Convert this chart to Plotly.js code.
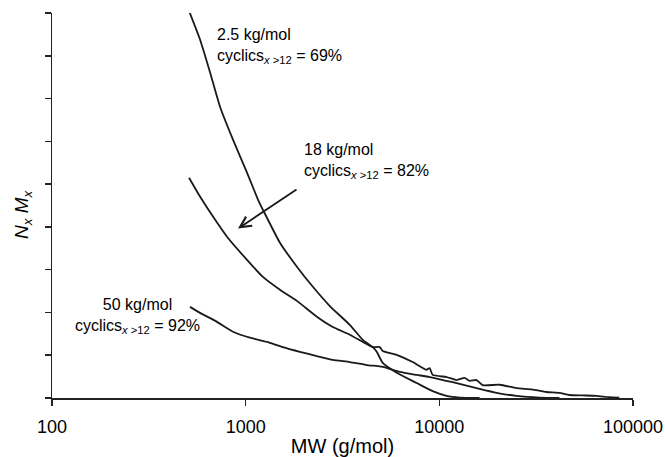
<!DOCTYPE html>
<html>
<head>
<meta charset="utf-8">
<script src="https://cdn.plot.ly/plotly-3.0.1.min.js"></script>
<style>html,body{margin:0;padding:0;background:#fff;}#chart{width:665px;height:457px;}</style>
</head>
<body>
<div id="chart"></div>
<script>
// 2.5 kg/mol (cyclics x>12 = 69%)
const mwA  = [512, 581, 655, 737, 860, 1016, 1157, 1228, 1503, 1839, 2223, 2720, 3448, 4024, 4531, 4751, 5103, 6026, 7638, 9237, 10904, 12725, 16130];
const valA = [9.03, 8.38, 7.61, 6.81, 6.04, 5.27, 4.64, 4.40, 3.63, 3.07, 2.60, 2.15, 1.71, 1.36, 1.19, 1.08, 0.82, 0.59, 0.35, 0.16, 0.05, 0.01, 0.00];
// 18 kg/mol (cyclics x>12 = 82%)
const mwB  = [510, 581, 678, 801, 1016, 1228, 1503, 1839, 2331, 2818, 3448, 4024, 4531, 4923, 5103, 6026, 7286, 8602, 8913, 9237, 10904, 12280, 13500, 14330, 15570, 16720, 20500, 25030, 30000, 35740, 41700, 46950, 55000, 64700, 75000, 85000];
const valB = [5.15, 4.71, 4.24, 3.77, 3.23, 2.83, 2.53, 2.27, 1.90, 1.66, 1.48, 1.31, 1.19, 1.19, 1.10, 1.01, 0.84, 0.66, 0.70, 0.54, 0.49, 0.42, 0.47, 0.40, 0.42, 0.30, 0.31, 0.23, 0.20, 0.14, 0.12, 0.07, 0.06, 0.05, 0.02, 0.01];
// 50 kg/mol (cyclics x>12 = 92%)
const mwC  = [516, 581, 711, 860, 1052, 1288, 1557, 1905, 2331, 2818, 3448, 4220, 5103, 6244, 7638, 8913, 11710, 15570, 19750, 25030, 32890, 41700];
const valC = [2.13, 1.99, 1.78, 1.55, 1.41, 1.31, 1.19, 1.08, 0.98, 0.89, 0.84, 0.77, 0.73, 0.61, 0.54, 0.49, 0.37, 0.23, 0.12, 0.05, 0.01, 0.00];

const xTicks = [100, 1000, 10000, 100000];
const xTickText = ['100', '1000', '10000', '100000'];

const lineStyle = {color: '#1a1a1a', width: 1.8, shape: 'spline', smoothing: 0.5};
const traces = [
  {x: mwA, y: valA, mode: 'lines', line: lineStyle, name: '2.5 kg/mol'},
  {x: mwB, y: valB, mode: 'lines', line: lineStyle, name: '18 kg/mol'},
  {x: mwC, y: valC, mode: 'lines', line: lineStyle, name: '50 kg/mol'}
];

const F = 'Liberation Sans, Arial, sans-serif';
const sub = '<sub><i>x</i> >12</sub>';
const layout = {
  width: 665, height: 457,
  margin: {l: 52, r: 32, t: 13, b: 59},
  paper_bgcolor: '#fff', plot_bgcolor: '#fff',
  showlegend: false,
  font: {family: F, color: '#000'},
  xaxis: {
    type: 'log', range: [2, 5],
    tickvals: xTicks, ticktext: xTickText,
    ticks: 'outside', ticklen: 6, tickwidth: 1.5, tickcolor: '#222',
    ticklabelstandoff: 6,
    showline: true, linecolor: '#222', linewidth: 1.5,
    showgrid: false, zeroline: false,
    tickfont: {family: F, size: 18, color: '#000'},
    title: {text: 'MW (g/mol)', font: {family: F, size: 20, color: '#000'}, standoff: 8}
  },
  yaxis: {
    range: [0, 9], dtick: 1, tick0: 0,
    ticks: 'outside', ticklen: 6, tickwidth: 1.5, tickcolor: '#222',
    showticklabels: false,
    showline: true, linecolor: '#222', linewidth: 1.5,
    showgrid: false, zeroline: false
  },
  annotations: [
    {xref: 'paper', yref: 'paper', x: (23 - 52) / 581, y: (398 - 214) / 385, xanchor: 'center', yanchor: 'middle', textangle: -90, showarrow: false,
     text: '<i>N<sub>x</sub> M<sub>x</sub></i>', font: {family: F, size: 19, color: '#000'}},
    {xref: 'paper', yref: 'paper', x: (215 - 52) / 581, y: (398 - 24) / 385, xanchor: 'left', yanchor: 'top', align: 'left', showarrow: false,
     text: '2.5 kg/mol<br>cyclics' + sub + ' = 69%', font: {family: F, size: 16, color: '#000'}},
    {xref: 'paper', yref: 'paper', x: (302 - 52) / 581, y: (398 - 139) / 385, xanchor: 'left', yanchor: 'top', align: 'left', showarrow: false,
     text: '18 kg/mol<br>cyclics' + sub + ' = 82%', font: {family: F, size: 16, color: '#000'}},
    {xref: 'paper', yref: 'paper', x: (137 - 52) / 581, y: (398 - 294) / 385, xanchor: 'center', yanchor: 'top', align: 'center', showarrow: false,
     text: '50 kg/mol<br>cyclics' + sub + ' = 92%', font: {family: F, size: 16, color: '#000'}},
    {xref: 'x', yref: 'y', x: Math.log10(913), y: 3.96, text: '', showarrow: true,
     arrowhead: 5, arrowsize: 1.2, arrowwidth: 1.8, arrowcolor: '#1a1a1a', ax: 60, ay: -40}
  ]
};

Plotly.newPlot('chart', traces, layout, {displayModeBar: false, staticPlot: true});
</script>
</body>
</html>
